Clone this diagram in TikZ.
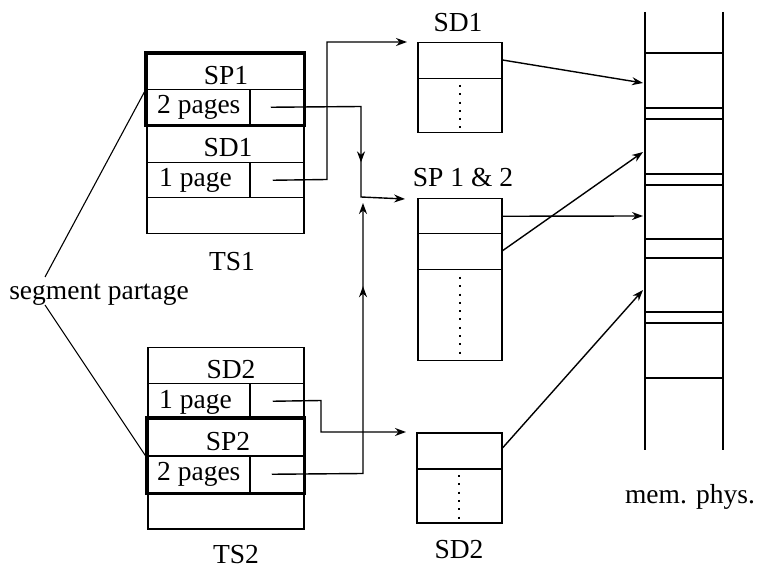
\documentclass[tikz,border=0pt]{standalone}
\usepackage{fontspec}
\setmainfont{Liberation Serif}
\usetikzlibrary{arrows.meta,decorations.markings}

\begin{document}
\begin{tikzpicture}[x=1pt,y=-1pt,
  txt/.style={font=\fontsize{27.5}{30}\selectfont, inner sep=0pt},
  cell/.style={draw, rectangle, inner sep=0pt, line width=1.5pt, anchor=north west},
  bold/.style={line width=3.2pt},
  tip/.style={-{Stealth[length=11pt,width=8pt]}},
  ptr/.style={line width=1.4pt, tip},
  plain/.style={line width=1.3pt},
  thin/.style={line width=1.1pt},
  dots/.style={line width=2.2pt, dash pattern=on 2pt off 6.3pt},
  midtip/.style={postaction={decorate}, decoration={markings,
      mark=at position #1 with {\arrow{Stealth[length=11pt,width=8pt]}}}}]

\useasboundingbox (0,0) rectangle (758,569);

% ---------- segment table TS1 ----------
\node[cell, minimum width=157pt, minimum height=36pt] (t1a) at (146,53) {};
\node[cell, minimum width=103pt, minimum height=35pt] (t1b) at (146,89) {};
\node[cell, minimum width=54pt,  minimum height=35pt] (p1)  at (249,89) {};
\node[cell, minimum width=157pt, minimum height=38pt] (t1c) at (146,124) {};
\node[cell, minimum width=103pt, minimum height=35pt] (t1d) at (146,162) {};
\node[cell, minimum width=54pt,  minimum height=35pt] (p2)  at (249,162) {};
\node[cell, minimum width=157pt, minimum height=36pt] (t1e) at (146,197) {};
\draw[bold] (t1a.north west) rectangle (p1.south east);

\node[txt, anchor=base] (l1a) at (226,85) {SP1};
\node[txt, anchor=base west] (l1b) at (157,114) {2 pages};
\node[txt, anchor=base] (l1c) at (228,157) {SD1};
\node[txt, anchor=base west] (l1d) at (159,187) {1 page};
\node[txt, anchor=base] (ts1) at (232,271) {TS1};

% ---------- segment table TS2 ----------
\node[cell, minimum width=156pt, minimum height=36pt] (t2a) at (147,347) {};
\node[cell, minimum width=102pt, minimum height=35pt] (t2b) at (147,383) {};
\node[cell, minimum width=54pt,  minimum height=35pt] (p3)  at (249,383) {};
\node[cell, minimum width=156pt, minimum height=37pt] (t2c) at (147,418) {};
\node[cell, minimum width=102pt, minimum height=37pt] (t2d) at (147,455) {};
\node[cell, minimum width=54pt,  minimum height=37pt] (p4)  at (249,455) {};
\node[cell, minimum width=156pt, minimum height=36pt] (t2e) at (147,492) {};
\draw[bold] (t2c.north west) rectangle (p4.south east);

\node[txt, anchor=base] (l2a) at (231,378) {SD2};
\node[txt, anchor=base west] (l2b) at (159,408) {1 page};
\node[txt, anchor=base] (l2c) at (228,450) {SP2};
\node[txt, anchor=base west] (l2d) at (157,480) {2 pages};
\node[txt, anchor=base] (ts2) at (236,563) {TS2};

% ---------- segment SD1 ----------
\node[txt, anchor=base] (n1) at (458,32) {SD1};
\node[cell, minimum width=84pt, minimum height=36pt] (s1a) at (417,42) {};
\node[cell, minimum width=84pt, minimum height=54pt] (s1b) at (417,78) {};
\draw[dots] ([yshift=-7pt]s1b.north) -- ([yshift=5pt]s1b.south);

% ---------- shared segment SP 1 & 2 ----------
\node[txt, anchor=base] (n2) at (463,187) {SP 1 \& 2};
\node[cell, minimum width=84pt, minimum height=35pt] (s2a) at (417,198) {};
\node[cell, minimum width=84pt, minimum height=36pt] (s2b) at (417,233) {};
\node[cell, minimum width=84pt, minimum height=91pt] (s2c) at (417,269) {};
\draw[dots] ([yshift=-8pt]s2c.north) -- ([yshift=3pt]s2c.south);

% ---------- segment SD2 ----------
\node[cell, minimum width=85pt, minimum height=36pt] (s3a) at (416,432) {};
\node[cell, minimum width=85pt, minimum height=54pt] (s3b) at (416,468) {};
\draw[dots] ([yshift=-7pt]s3b.north) -- ([yshift=5pt]s3b.south);
\node[txt, anchor=base] (n3) at (459,558) {SD2};

% ---------- physical memory ----------
\draw[plain] (645,12) -- (645,450);
\draw[plain] (723,12) -- (723,450);
\foreach \yy in {53,108,119,174,185,239,258,312,323,378}
  \draw[plain] (645,\yy) -- (723,\yy);
\node[txt, anchor=base] (mem) at (690,503) {mem. phys.};
\coordinate (m1) at (643,83);
\coordinate (m2) at (643,216);
\coordinate (m3) at (643,152);
\coordinate (m4) at (643,290);

% ---------- shared segment label ----------
\node[txt, anchor=base] (seg) at (99,300) {segment partage};
\coordinate (g1) at (45,277);
\coordinate (g2) at (45,305);
\draw[thin] (g1) -- (t1b.north west);
\draw[thin] (g2) -- ([yshift=-3pt]t2d.north west);

% ---------- page table pointers ----------
\coordinate (jn) at (361,197);
\coordinate (jt) at (363,203);
\draw[ptr, midtip=0.65] ([xshift=-6pt]p1.center) -- (361,106.5) -- (jn)
      -- ([xshift=-12pt,yshift=-1pt]s2a.north west);
\draw[ptr] ([xshift=-4pt]p2.center) -- (327,179.5) -- (327,42)
      -- ([xshift=-10pt]s1a.north west);
\draw[ptr] ([xshift=-4pt]p3.center) -- (321,400.5) -- (321,432)
      -- ([xshift=-10pt]s3a.north west);
\draw[ptr, midtip=0.77] ([xshift=-5pt]p4.center) -- (363,473.5) -- (jt);

% ---------- segments to frames ----------
\draw[ptr] ([yshift=-18pt]s1a.north east) -- (m1);
\draw[ptr] (s2a.east) -- (m2);
\draw[ptr] ([yshift=1pt]s2b.east) -- (m3);
\draw[ptr] ([yshift=-16pt]s3a.north east) -- (m4);

\end{tikzpicture}
\end{document}
